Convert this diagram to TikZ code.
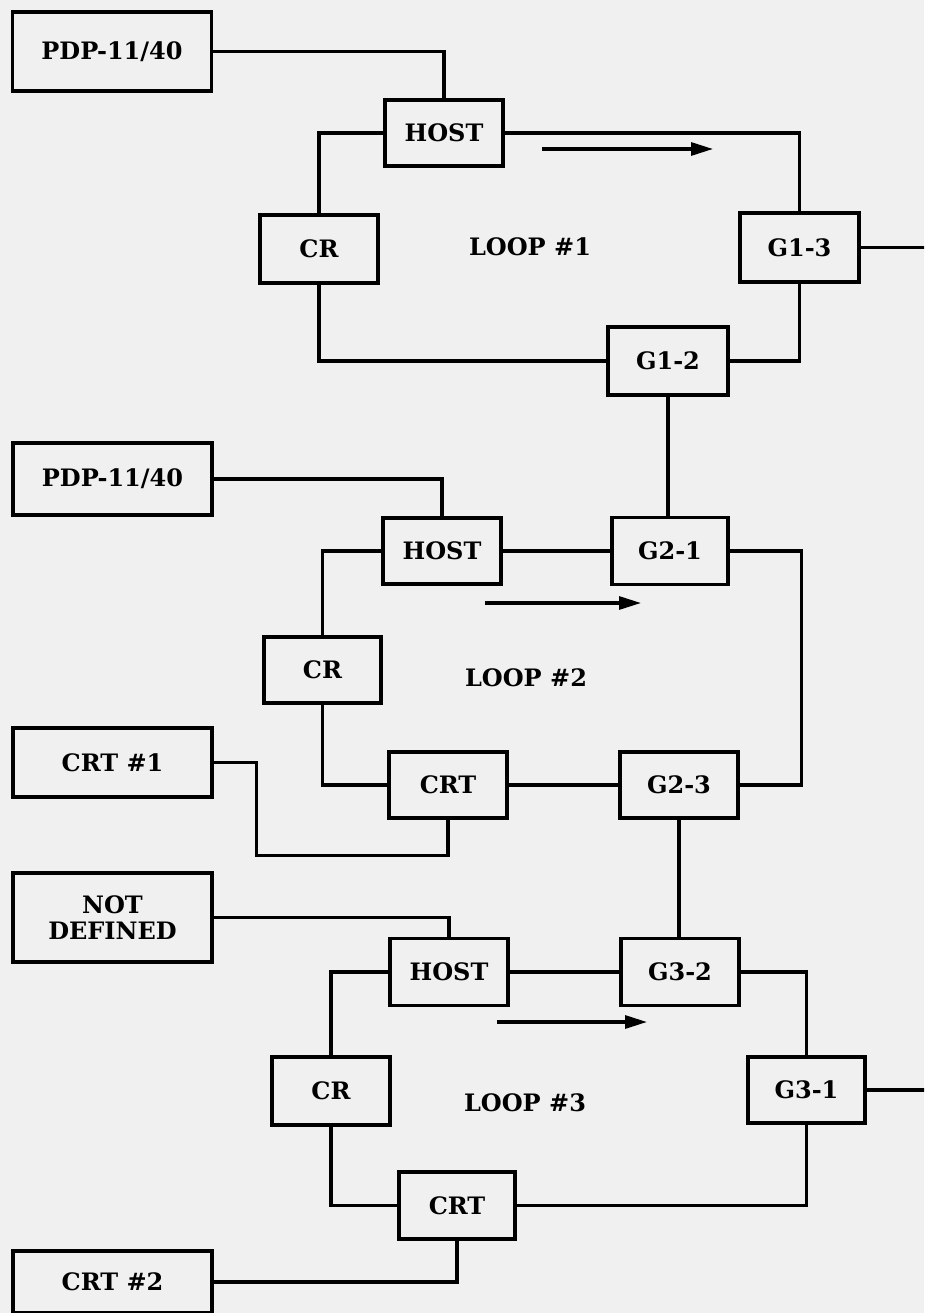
\documentclass[tikz,border=0pt]{standalone}
\usepackage{fontspec}
\setmainfont{DejaVu Serif}
\usetikzlibrary{arrows.meta,calc}
\definecolor{paper}{RGB}{240,240,240}
\begin{document}
\begin{tikzpicture}[x=1pt,y=-1pt,
  box/.style={draw, line width=3.3pt, fill=paper, minimum width=118pt, minimum height=66pt, inner sep=0pt, font=\fontsize{24}{26}\selectfont\bfseries, align=center},
  wide/.style={box, minimum width=199pt},
  link/.style={line width=3.1pt},
  flow/.style={line width=3.1pt, -{Triangle[length=22pt,width=13pt]}},
  lbl/.style={font=\fontsize{24}{26}\selectfont\bfseries}]
\useasboundingbox (0,0) rectangle (924,1313);
\clip (0,0) rectangle (924,1313);
\fill[paper] (0,0) rectangle (924,1313);

% ---------- Loop 1 ----------
\node[wide, minimum height=79pt] (pdp1) at (112,51.5) {PDP-11/40};
\node[box] (host1) at (444,133) {HOST};
\node[box, minimum height=68pt] (cr1) at (319,249) {CR};
\node[box, minimum width=119pt, minimum height=69pt] (g13) at (799.5,247.5) {G1-3};
\node[box, minimum width=120pt, minimum height=68pt] (g12) at (668,361) {G1-2};
\node[lbl] (loop1) at (530,247) {LOOP \#1};
\coordinate (e1) at (940,247.5);
\coordinate (a1s) at (542,149);
\coordinate (a1e) at (713,149);

\draw[link] (pdp1.east) -| (host1.north);
\draw[link] (host1.east) -| (g13.north);
\draw[link] (g13.south) |- (g12.east);
\draw[link] (g12.west) -| (cr1.south);
\draw[link] (cr1.north) |- (host1.west);
\draw[link] (g13.east) -- (g13.east -| e1);
\draw[flow] (a1s) -- (a1e);

% ---------- Loop 2 ----------
\node[wide, minimum height=72pt] (pdp2) at (112.5,479) {PDP-11/40};
\node[box] (host2) at (442,551) {HOST};
\node[box, minimum width=116pt, minimum height=67pt] (g21) at (670,551) {G2-1};
\node[box, minimum width=117pt] (cr2) at (322.5,670) {CR};
\node[wide, minimum height=69pt] (crt1) at (112.5,762.5) {CRT \#1};
\node[box] (crtA) at (448,785) {CRT};
\node[box] (g23) at (679,785) {G2-3};
\node[lbl] (loop2) at (526,678) {LOOP \#2};
\coordinate (a2s) at (485,603);
\coordinate (a2e) at (641,603);

\draw[link] (g12.south) -- (g12.south |- g21.north);
\draw[link] (pdp2.east) -| (host2.north);
\draw[link] (host2.east) -- (g21.west);
\draw[link] (g21.east) -- ++(72,0) |- (g23.east);
\draw[link] (g23.west) -- (crtA.east);
\draw[link] (crtA.west) -| (cr2.south);
\draw[link] (cr2.north) |- (host2.west);
\draw[link] (crt1.east) -- ++(43,0) -- ++(0,93) -| (crtA.south);
\draw[flow] (a2s) -- (a2e);

% ---------- Loop 3 ----------
\node[wide, minimum height=89pt] (nd) at (112.5,917.5) {NOT\\DEFINED};
\node[box, minimum height=67pt] (host3) at (449,972) {HOST};
\node[box, minimum height=67pt] (g32) at (680,972) {G3-2};
\node[box, minimum height=68pt] (cr3) at (331,1091) {CR};
\node[box, minimum width=117pt] (g31) at (806.5,1090) {G3-1};
\node[box, minimum width=116pt, minimum height=67pt] (crtB) at (457,1205.5) {CRT};
\node[wide, minimum height=62pt] (crt2) at (112.5,1282) {CRT \#2};
\node[lbl] (loop3) at (525,1103) {LOOP \#3};
\coordinate (e3) at (940,1090);
\coordinate (a3s) at (497,1022);
\coordinate (a3e) at (647,1022);

\draw[link] (g23.south) -- (g23.south |- g32.north);
\draw[link] (nd.east) -| (host3.north);
\draw[link] (host3.east) -- (g32.west);
\draw[link] (g32.east) -| (g31.north);
\draw[link] (g31.south) |- (crtB.east);
\draw[link] (crtB.west) -| (cr3.south);
\draw[link] (cr3.north) |- (host3.west);
\draw[link] (g31.east) -- (g31.east -| e3);
\draw[link] (crt2.east) -| (crtB.south);
\draw[flow] (a3s) -- (a3e);
\end{tikzpicture}
\end{document}
